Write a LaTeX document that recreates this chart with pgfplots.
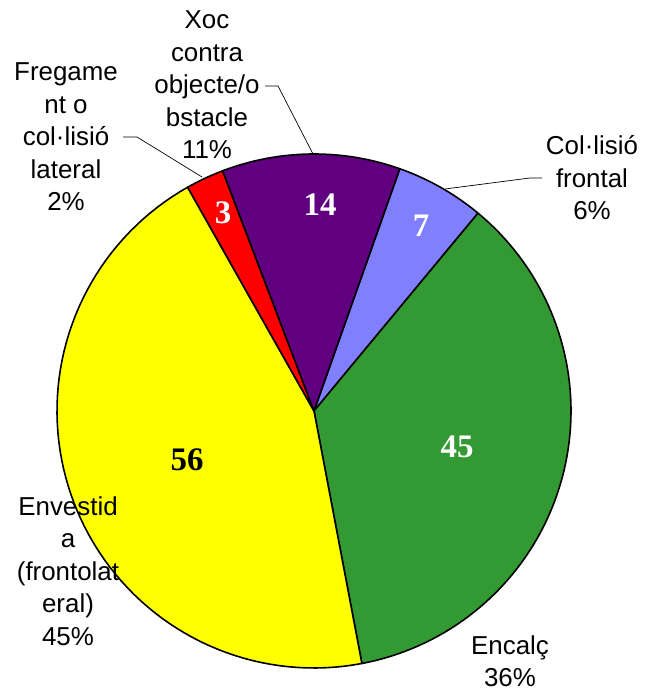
\documentclass[border=0pt]{standalone}
\usepackage{pgfplots}
\pgfplotsset{compat=1.18}
\usepackage{fontspec}
\setmainfont{Liberation Sans}
\newfontfamily\timesf{Liberation Serif}
\definecolor{cYel}{RGB}{255,255,0}
\definecolor{cGrn}{RGB}{51,153,51}
\definecolor{cLav}{RGB}{128,128,255}
\definecolor{cPur}{RGB}{96,0,128}
\definecolor{cRed}{RGB}{255,0,0}
% values (clockwise from the Col·lisió frontal slice)
\def\vA{7}  % Col·lisió frontal
\def\vB{45} % Encalç
\def\vC{56} % Envestida (frontolateral)
\def\vD{3}  % Fregament o col·lisió lateral
\def\vE{14} % Xoc contra objecte/obstacle
\pgfmathsetmacro{\tot}{\vA+\vB+\vC+\vD+\vE}
\pgfmathsetmacro{\k}{360/\tot}
\pgfmathsetmacro{\aA}{70.5}
\pgfmathsetmacro{\aB}{\aA-\k*\vA}
\pgfmathsetmacro{\aC}{\aB-\k*\vB}
\pgfmathsetmacro{\aD}{\aC-\k*\vC}
\pgfmathsetmacro{\aE}{\aD-\k*\vD}
\pgfmathsetmacro{\aF}{\aE-\k*\vE}
\def\cx{314}
\def\cy{280}
\def\R{257}
\begin{document}
\begin{tikzpicture}
\begin{axis}[width=656bp, height=691bp, scale only axis,
  xmin=0, xmax=656, ymin=0, ymax=691, hide axis, clip=false]
\path (axis cs:0,0) rectangle (axis cs:656,691);
\pgfplotsset{pie/.style={draw=black, line width=1.6pt, line join=round, samples=80}}
\addplot[pie, fill=cLav, domain=\aB:\aA] ({\cx+\R*cos(x)},{\cy+\R*sin(x)}) -- (axis cs:\cx,\cy) -- cycle;
\addplot[pie, fill=cGrn, domain=\aC:\aB] ({\cx+\R*cos(x)},{\cy+\R*sin(x)}) -- (axis cs:\cx,\cy) -- cycle;
\addplot[pie, fill=cYel, domain=\aD:\aC] ({\cx+\R*cos(x)},{\cy+\R*sin(x)}) -- (axis cs:\cx,\cy) -- cycle;
\addplot[pie, fill=cRed, domain=\aE:\aD, samples=10] ({\cx+\R*cos(x)},{\cy+\R*sin(x)}) -- (axis cs:\cx,\cy) -- cycle;
\addplot[pie, fill=cPur, domain=\aF:\aE] ({\cx+\R*cos(x)},{\cy+\R*sin(x)}) -- (axis cs:\cx,\cy) -- cycle;
% value labels
\tikzset{vl/.style={font=\timesf\bfseries\fontsize{33}{33}\selectfont}}
\node[vl, text=white] at (axis cs:421,{691-226}) {7};
\node[vl, text=white] at (axis cs:457,{691-447}) {45};
\node[vl, text=black] at (axis cs:187,{691-460}) {56};
\node[vl, text=white] at (axis cs:223,{691-213}) {3};
\node[vl, text=white] at (axis cs:320,{691-205}) {14};
% leader lines
\draw[line width=0.7pt] (axis cs:265,{691-86}) -- (axis cs:278,{691-86}) -- (axis cs:313,{691-154});
\draw[line width=0.7pt] (axis cs:123,{691-137}) -- (axis cs:137,{691-137}) -- (axis cs:202,{691-177});
\draw[line width=0.7pt] (axis cs:542,{691-178}) -- (axis cs:530,{691-178}) -- (axis cs:445,{691-189});
% category labels
\tikzset{cl/.style={align=center, inner sep=0pt, font=\fontsize{26}{32.6}\selectfont}}
\node[cl] at (axis cs:207,{691-85}) {Xoc\\contra\\objecte/o\\bstacle\\11\%};
\node[cl] at (axis cs:66,{691-137}) {Fregame\\nt o\\col·lisió\\lateral\\2\%};
\node[cl] at (axis cs:592,{691-178}) {Col·lisió\\frontal\\6\%};
\node[cl] at (axis cs:68,{691-571}) {Envestid\\a\\(frontolat\\eral)\\45\%};
\node[cl] at (axis cs:510,{691-661}) {Encalç\\36\%};
\end{axis}
\end{tikzpicture}
\end{document}
